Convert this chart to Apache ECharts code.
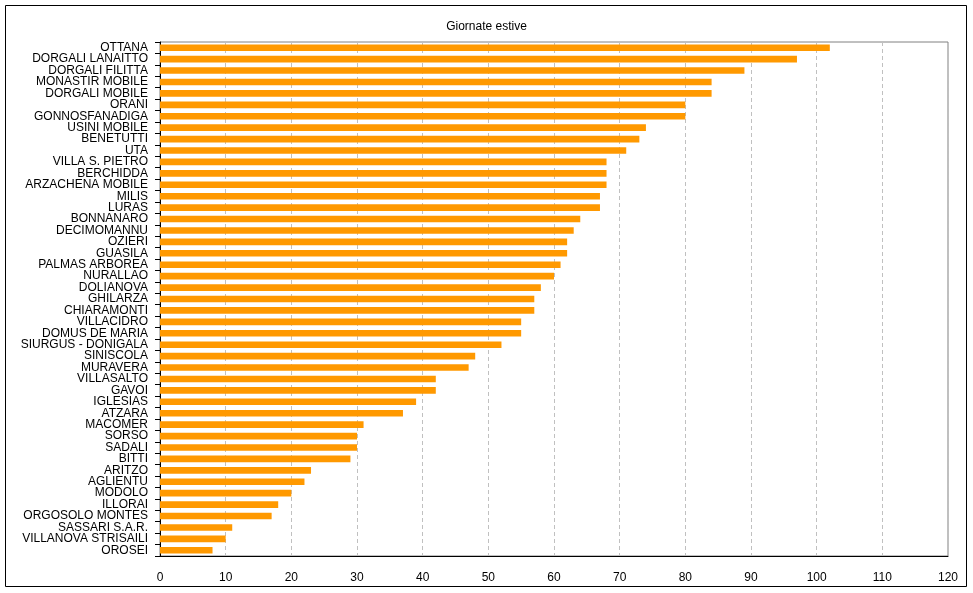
<!DOCTYPE html>
<html>
<head>
<meta charset="utf-8">
<script src="https://cdn.jsdelivr.net/npm/echarts@6/dist/echarts.min.js"></script>
<style>
html,body{margin:0;padding:0;background:#fff;}
#chart{width:973px;height:593px;}
</style>
</head>
<body>
<div id="chart"></div>
<script>
var titleText = 'Giornate estive';
var categories = ['OTTANA','DORGALI LANAITTO','DORGALI FILITTA','MONASTIR MOBILE','DORGALI MOBILE','ORANI','GONNOSFANADIGA','USINI MOBILE','BENETUTTI','UTA','VILLA S. PIETRO','BERCHIDDA','ARZACHENA MOBILE','MILIS','LURAS','BONNANARO','DECIMOMANNU','OZIERI','GUASILA','PALMAS ARBOREA','NURALLAO','DOLIANOVA','GHILARZA','CHIARAMONTI','VILLACIDRO','DOMUS DE MARIA','SIURGUS - DONIGALA','SINISCOLA','MURAVERA','VILLASALTO','GAVOI','IGLESIAS','ATZARA','MACOMER','SORSO','SADALI','BITTI','ARITZO','AGLIENTU','MODOLO','ILLORAI','ORGOSOLO MONTES','SASSARI S.A.R.','VILLANOVA STRISAILI','OROSEI'];
var values = [102,97,89,84,84,80,80,74,73,71,68,68,68,67,67,64,63,62,62,61,60,58,57,57,55,55,52,48,47,42,42,39,37,31,30,30,29,23,22,20,18,17,11,10,8];
var xMin = 0, xMax = 120, xStep = 10;

var chart = echarts.init(document.getElementById('chart'));
chart.setOption({
  animation: false,
  backgroundColor: '#fff',
  title: {
    text: titleText, left: 'center', top: 16,
    textStyle: {fontFamily: 'Liberation Sans', fontSize: 12, fontWeight: 'normal', color: '#000'}
  },
  graphic: [{
    type: 'rect', z: -1,
    shape: {x: 5.5, y: 5.5, width: 961, height: 581},
    style: {fill: 'none', stroke: '#000', lineWidth: 1}
  }],
  grid: {left: 160, top: 42, right: 25, bottom: 37, show: true, borderColor: '#808080', borderWidth: 1, backgroundColor: 'transparent'},
  xAxis: {
    type: 'value', min: xMin, max: xMax, interval: xStep,
    axisLine: {show: true, lineStyle: {color: '#000', width: 1}},
    axisTick: {show: false},
    axisLabel: {margin: 16, fontFamily: 'Liberation Sans', fontSize: 12, color: '#000'},
    splitLine: {show: true, lineStyle: {color: '#c0c0c0', type: [4, 3], width: 1}}
  },
  yAxis: {
    type: 'category', data: categories, inverse: true,
    axisLine: {show: true, lineStyle: {color: '#000', width: 1}},
    axisTick: {show: true, length: 5, lineStyle: {color: '#000'}},
    axisLabel: {margin: 12, interval: 0, fontFamily: 'Liberation Sans', fontSize: 12, color: '#000'},
    splitLine: {show: false}
  },
  series: [{
    type: 'bar', data: values, barCategoryGap: '42%',
    itemStyle: {color: '#FF9900'}
  }]
});
</script>
</body>
</html>
